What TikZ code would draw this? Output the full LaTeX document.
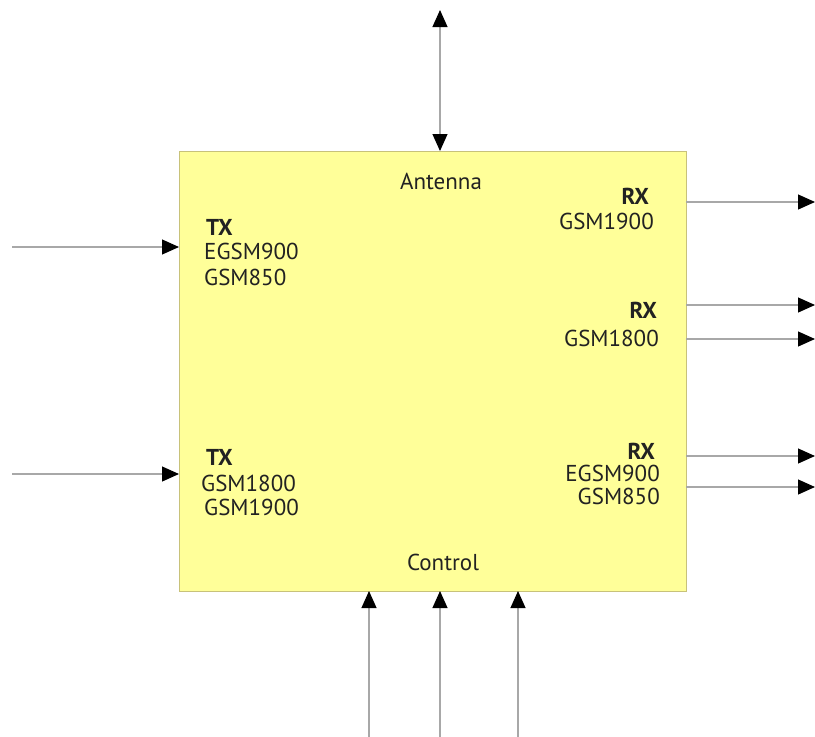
\documentclass[tikz,border=0pt]{standalone}
\usepackage{fontspec}
\setmainfont{PT Sans}
\usetikzlibrary{arrows.meta}
\definecolor{boxfill}{HTML}{FFFF99}
\definecolor{boxedge}{HTML}{C8C27A}
\definecolor{wire}{HTML}{A8A8A8}
\definecolor{ink}{HTML}{222222}
\tikzset{
  blockbox/.style={draw=boxedge, fill=boxfill, line width=1pt, inner sep=0pt, minimum width=507pt, minimum height=440pt, anchor=north west},
  tipb/.tip={Triangle[length=17pt,width=15pt,color=black]},
  wireline/.style={draw=wire, line width=1.1pt, -tipb},
  lbl/.style={text=ink, font=\fontsize{23}{25}\selectfont, inner sep=0pt, text height=15pt, text depth=0pt},
  hdr/.style={lbl, font=\fontsize{23}{25}\selectfont\bfseries},
}
\begin{document}
\begin{tikzpicture}[x=1pt,y=-1pt]
\useasboundingbox (0,0) rectangle (815,737);
\node[blockbox] (box) at (179,151) {};
% antenna
\coordinate (antT) at (440,10);
\coordinate (antB) at (440,151);
\draw[wireline, tipb-tipb] (antT) -- (antB);
% TX inputs
\coordinate (tx1s) at (12,247);
\coordinate (tx1e) at (179,247);
\coordinate (tx2s) at (12,474);
\coordinate (tx2e) at (179,474);
\draw[wireline] (tx1s) -- (tx1e);
\draw[wireline] (tx2s) -- (tx2e);
% RX outputs
\coordinate (rx1s) at (686,202);
\coordinate (rx1e) at (815,202);
\coordinate (rx2s) at (686,305);
\coordinate (rx2e) at (815,305);
\coordinate (rx3s) at (686,339);
\coordinate (rx3e) at (815,339);
\coordinate (rx4s) at (686,456);
\coordinate (rx4e) at (815,456);
\coordinate (rx5s) at (686,487);
\coordinate (rx5e) at (815,487);
\foreach \i in {1,...,5}{\draw[wireline] (rx\i s) -- (rx\i e);}
% control
\coordinate (c1s) at (369,737);
\coordinate (c1e) at (369,591);
\coordinate (c2s) at (440,737);
\coordinate (c2e) at (440,591);
\coordinate (c3s) at (518,737);
\coordinate (c3e) at (518,591);
\foreach \i in {1,2,3}{\draw[wireline] (c\i s) -- (c\i e);}
% labels
\node[lbl] (antenna) at (441,182) {Antenna};
\node[lbl] (control) at (443,563) {Control};
\node[hdr, anchor=east] (rxa) at (649,197) {RX};
\node[lbl, anchor=east] (rxa1) at (654,222) {GSM1900};
\node[hdr, anchor=east] (rxb) at (657,311) {RX};
\node[lbl, anchor=east] (rxb1) at (659,339) {GSM1800};
\node[hdr, anchor=east] (rxc) at (655,452) {RX};
\node[lbl, anchor=east] (rxc1) at (660,474) {EGSM900};
\node[lbl, anchor=east] (rxc2) at (660,497) {GSM850};
\node[hdr, anchor=west] (txa) at (206,228) {TX};
\node[lbl, anchor=west] (txa1) at (204,252) {EGSM900};
\node[lbl, anchor=west] (txa2) at (204,278) {GSM850};
\node[hdr, anchor=west] (txb) at (206,458) {TX};
\node[lbl, anchor=west] (txb1) at (201,484) {GSM1800};
\node[lbl, anchor=west] (txb2) at (204,508) {GSM1900};
\end{tikzpicture}
\end{document}
